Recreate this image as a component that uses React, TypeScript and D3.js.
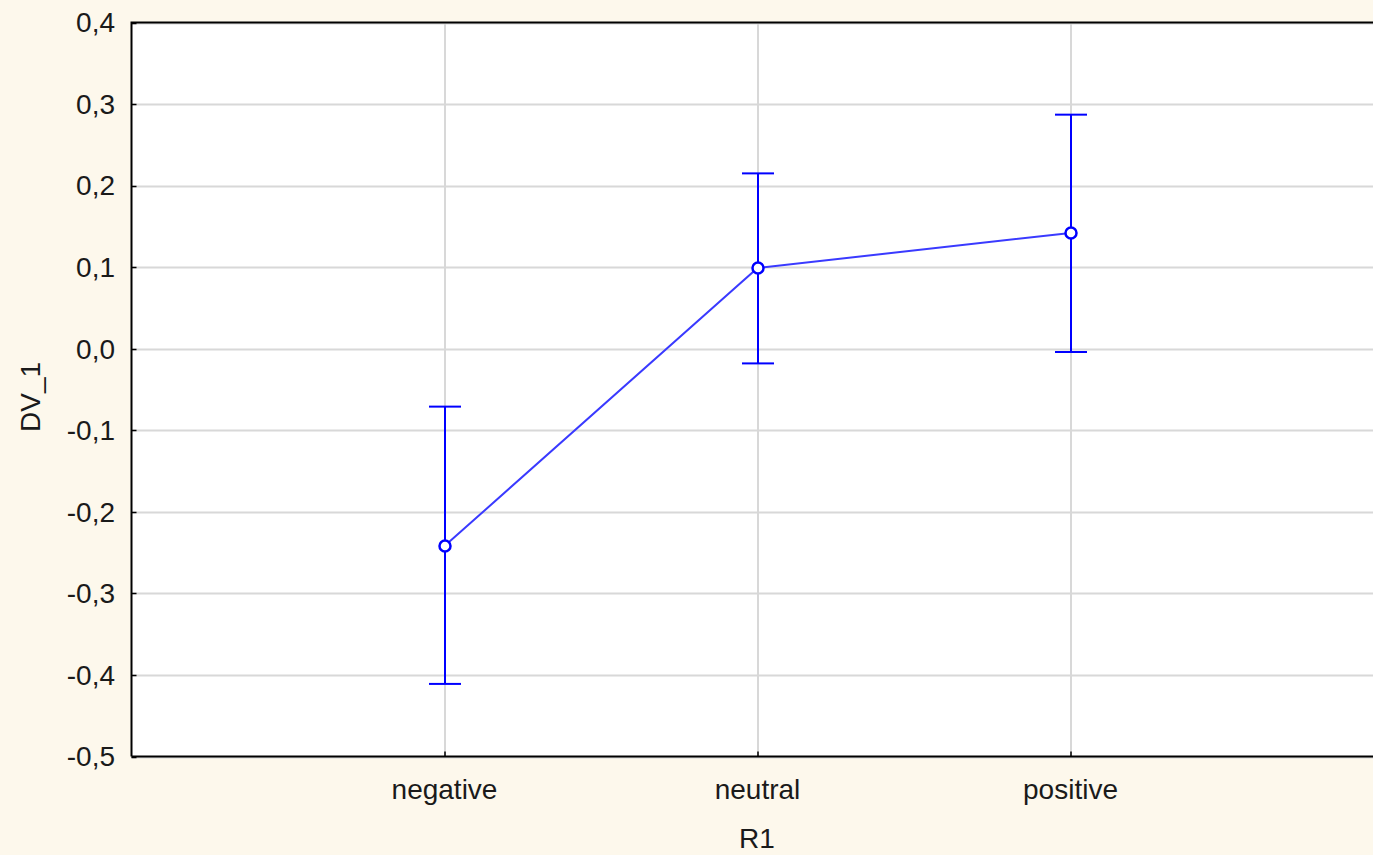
import React from "react";
import * as d3 from "d3";

const categories = ["negative", "neutral", "positive"];
const means = [-0.242, 0.099, 0.142];
const upper = [-0.071, 0.215, 0.287];
const lower = [-0.411, -0.018, -0.004];
const yTicks = [-0.5, -0.4, -0.3, -0.2, -0.1, 0.0, 0.1, 0.2, 0.3, 0.4];

const width = 1373;
const height = 855;
const marginLeft = 131.5;
const marginTop = 22.5;
const plotBottom = 756.5;
const plotRight = 1383.5;

const fmt = (v: number) => d3.format(".1f")(v).replace(".", ",").replace("\u2212", "-");

export default function App() {
  const x = d3
    .scalePoint<string>()
    .domain(categories)
    .range([marginLeft, plotRight])
    .padding(1);
  const y = d3.scaleLinear().domain([-0.5, 0.4]).range([plotBottom, marginTop]);

  const pts = categories.map((c, i) => [x(c) as number, y(means[i])] as [number, number]);
  const path = d3.line()(pts) || "";
  const blue = "#0000ff";
  const font = "Arial, 'Liberation Sans', sans-serif";
  const fs = 28;

  return (
    <svg
      width={width}
      height={height}
      style={{ position: "fixed", left: 0, top: 0, background: "#fdf8ec" }}
    >
      <rect x={0} y={0} width={width} height={height} fill="#fdf8ec" />
      <rect
        x={marginLeft}
        y={marginTop}
        width={plotRight - marginLeft}
        height={plotBottom - marginTop}
        fill="#ffffff"
      />
      {/* grid */}
      {yTicks.map((t) => (
        <line
          key={"gy" + t}
          x1={marginLeft}
          x2={plotRight}
          y1={Math.round(y(t)) + 0.5}
          y2={Math.round(y(t)) + 0.5}
          stroke="#d8d8d8"
          strokeWidth={2}
        />
      ))}
      {categories.map((c) => (
        <line
          key={"gx" + c}
          x1={Math.round(x(c) as number)}
          x2={Math.round(x(c) as number)}
          y1={marginTop}
          y2={plotBottom}
          stroke="#d8d8d8"
          strokeWidth={2}
        />
      ))}
      {/* small ticks */}
      {yTicks.map((t) => (
        <line
          key={"ty" + t}
          x1={marginLeft}
          x2={marginLeft + 5}
          y1={Math.round(y(t)) + 0.5}
          y2={Math.round(y(t)) + 0.5}
          stroke="#000"
          strokeWidth={1.5}
        />
      ))}
      {categories.map((c) => (
        <line
          key={"tx" + c}
          x1={Math.round(x(c) as number)}
          x2={Math.round(x(c) as number)}
          y1={plotBottom}
          y2={plotBottom - 5}
          stroke="#000"
          strokeWidth={1.5}
        />
      ))}
      {/* frame */}
      <path
        d={`M${marginLeft},${plotBottom}V${marginTop}H${plotRight}`}
        fill="none"
        stroke="#000"
        strokeWidth={2}
      />
      <line x1={marginLeft} x2={plotRight} y1={plotBottom} y2={plotBottom} stroke="#000" strokeWidth={2} />

      {/* y labels */}
      {yTicks.map((t) => (
        <text
          key={"ly" + t}
          x={115}
          y={y(t)}
          dy="0.35em"
          textAnchor="end"
          fontFamily={font}
          fontSize={fs}
          fill="#1a1a1a"
        >
          {fmt(t)}
        </text>
      ))}
      {/* x labels */}
      {categories.map((c) => (
        <text
          key={"lx" + c}
          x={x(c) as number}
          y={799}
          textAnchor="middle"
          fontFamily={font}
          fontSize={fs}
          fill="#1a1a1a"
        >
          {c}
        </text>
      ))}
      <text x={757} y={848} textAnchor="middle" fontFamily={font} fontSize={fs} fill="#1a1a1a">
        R1
      </text>
      <text
        transform={`translate(40,397) rotate(-90)`}
        textAnchor="middle"
        fontFamily={font}
        fontSize={fs}
        fill="#1a1a1a"
      >
        DV_1
      </text>

      {/* error bars */}
      {categories.map((c, i) => {
        const cx = Math.round(x(c) as number);
        return (
          <g key={"eb" + c} stroke={blue} strokeWidth={2}>
            <line x1={cx} x2={cx} y1={y(upper[i])} y2={y(lower[i])} />
            <line x1={cx - 16} x2={cx + 16} y1={y(upper[i])} y2={y(upper[i])} />
            <line x1={cx - 16} x2={cx + 16} y1={y(lower[i])} y2={y(lower[i])} />
          </g>
        );
      })}
      <path d={path} fill="none" stroke="#3a3aff" strokeWidth={2} />
      {pts.map((p, i) => (
        <circle
          key={"pt" + i}
          cx={Math.round(p[0])}
          cy={p[1]}
          r={5.5}
          fill="#ffffff"
          stroke={blue}
          strokeWidth={2.5}
        />
      ))}
    </svg>
  );
}
